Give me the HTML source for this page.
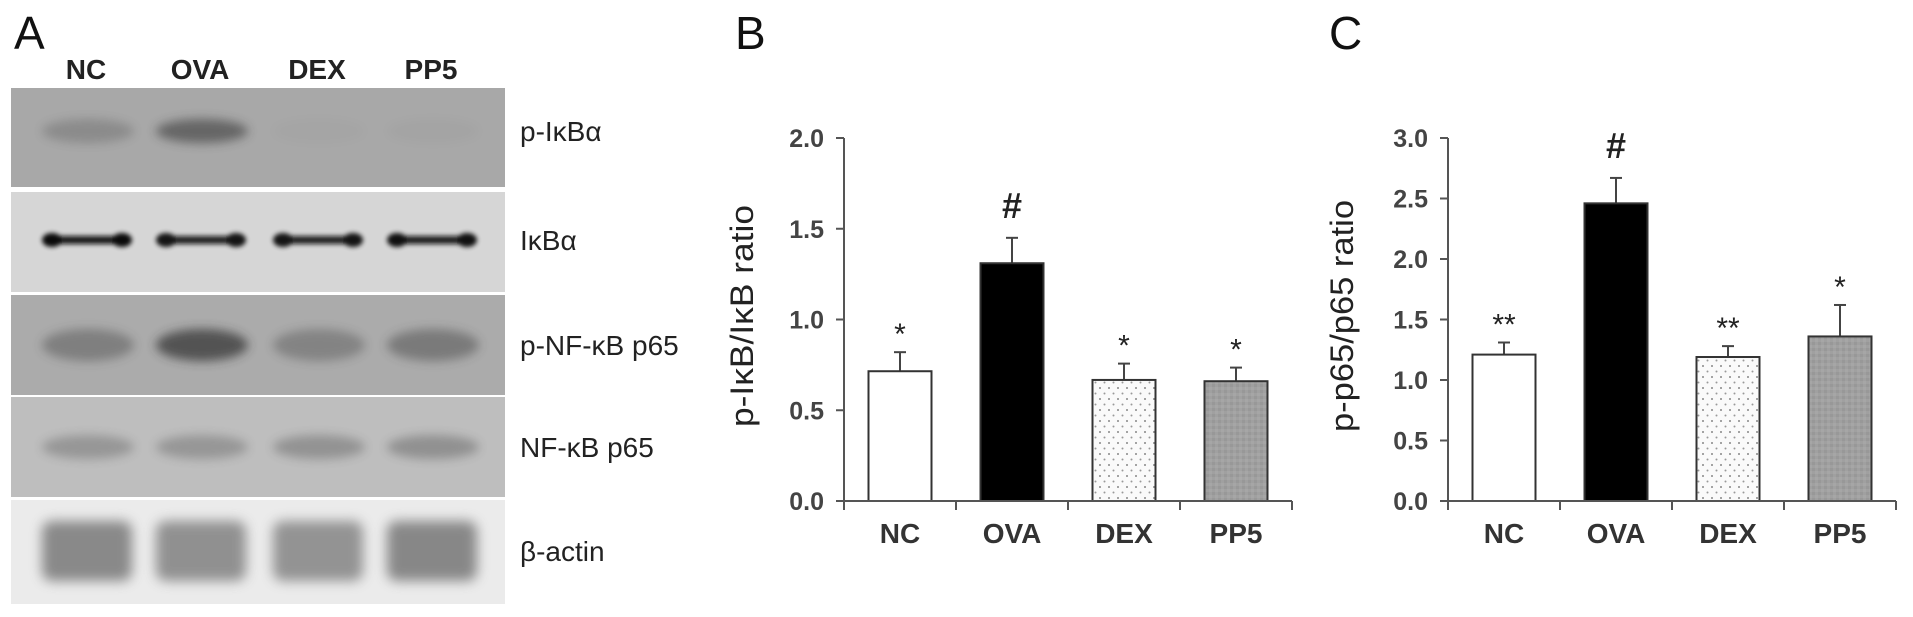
<!DOCTYPE html>
<html><head><meta charset="utf-8"><style>
html,body{margin:0;padding:0;background:#fff;}
svg{display:block;font-family:"Liberation Sans",Arial,sans-serif;}
</style></head><body>
<svg id="fig" width="1913" height="617" viewBox="0 0 1913 617">
<defs>
<filter id="blur4" x="-30%" y="-100%" width="160%" height="300%"><feGaussianBlur stdDeviation="5"/></filter>
<filter id="blur2" x="-30%" y="-100%" width="160%" height="300%"><feGaussianBlur stdDeviation="2.5"/></filter>
<filter id="blur8" x="-30%" y="-60%" width="160%" height="220%"><feGaussianBlur stdDeviation="6"/></filter>
<pattern id="dots" width="9" height="11" patternUnits="userSpaceOnUse"><rect width="9" height="11" fill="#fafafa"/><circle cx="2" cy="3" r="1" fill="#888"/><circle cx="6.5" cy="8.5" r="1" fill="#999"/></pattern>
<pattern id="gray" width="6" height="6" patternUnits="userSpaceOnUse"><rect width="6" height="6" fill="#a0a0a0"/><rect width="3" height="3" fill="#989898"/><rect x="3" y="3" width="3" height="3" fill="#a6a6a6"/></pattern>
</defs>
<g>
<text x="14" y="49" font-size="46" fill="#111">A</text>
<g id="blot"></g>
</g>
<g id="panelB">
<text x="735" y="49" font-size="46" fill="#111">B</text>
</g>
<g id="panelC">
<text x="1329" y="49" font-size="46" fill="#111">C</text>
</g>
</svg>
<script>
const NS='http://www.w3.org/2000/svg';
const categories=['NC','OVA','DEX','PP5'];
const bValues=[0.715,1.31,0.667,0.66];
const bErrors=[0.105,0.14,0.09,0.075];
const bMarks=['*','#','*','*'];
const bTicks=['0.0','0.5','1.0','1.5','2.0'];
const cValues=[1.21,2.46,1.19,1.36];
const cErrors=[0.10,0.21,0.09,0.26];
const cMarks=['**','#','**','*'];
const cTicks=['0.0','0.5','1.0','1.5','2.0','2.5','3.0'];
const blotLabels=['p-IκBα','IκBα','p-NF-κB p65','NF-κB p65','β-actin'];
const bandIntensity=[[0.3,0.7,0.03,0.04],[0.95,0.9,0.9,0.92],[0.45,0.9,0.4,0.5],[0.35,0.35,0.38,0.4],[0.65,0.6,0.58,0.66]];

function el(tag,attrs,parent,txt){const e=document.createElementNS(NS,tag);for(const k in attrs)e.setAttribute(k,attrs[k]);if(txt!==undefined)e.textContent=txt;parent.appendChild(e);return e;}

const blot=document.getElementById('blot');
const strips=[[88,187,'#a8a8a8'],[192,292,'#d6d6d6'],[295,395,'#ababab'],[397,497,'#bebebe'],[500,604,'#ebebeb']];
const laneX=[86,200,317,431];
categories.forEach((c,i)=>{
  const t=el('text',{x:laneX[i],y:79,'font-size':28,'font-weight':'bold','text-anchor':'middle',fill:'#222'},blot,c);
  
  
});
strips.forEach((s,si)=>{
  const g=el('g',{},blot);
  
  
  el('rect',{x:11,y:s[0],width:494,height:s[1]-s[0],fill:s[2]},g);
  const cy=si===0?131:si===1?240:si===2?345:si===3?447:551;
  laneX.forEach((x,li)=>{
    const a=bandIntensity[si][li];
    let b;
    if(si===4){
      b=el('rect',{x:x-44,y:cy-30,width:90,height:60,rx:10,fill:'#555',opacity:a,filter:'url(#blur8)'},g);
    } else if(si===1){
      b=el('g',{filter:'url(#blur2)',opacity:a},g);
      el('rect',{x:x-40,y:cy-4,width:82,height:8,fill:'#111'},b);
      el('ellipse',{cx:x-34,cy:cy,rx:10,ry:7,fill:'#000'},b);
      el('ellipse',{cx:x+36,cy:cy,rx:10,ry:7,fill:'#000'},b);
    } else {
      const h=si===2?16:12;
      b=el('ellipse',{cx:x+2,cy:cy,rx:46,ry:h,fill:'#333',opacity:a*0.8,filter:'url(#blur4)'},g);
    }
    
    
  });
  const lt=el('text',{x:520,y:cy+10,'font-size':28,fill:'#222'},blot,blotLabels[si]);
  
  
});

function chart(gid,x0,maxV,ticks,values,errors,marks,ylabel){
  const g=document.getElementById(gid);
  const W=448,y0=501,y1=138;
  const ys=v=>y0-(v/maxV)*(y0-y1);
  const band=W/categories.length;
  const xs=i=>x0+band*i+band/2;
  const fills=['#fff','#000','url(#dots)','url(#gray)'];
  ticks.forEach(t=>{
    const v=parseFloat(t);
    const tk=el('line',{x1:x0-8,x2:x0,y1:ys(v),y2:ys(v),stroke:'#555','stroke-width':2},g);
    
    
    const tl=el('text',{x:x0-20,y:ys(v)+9,'font-size':25,'font-weight':'bold','text-anchor':'end',fill:'#444'},g,t);
    
    
  });
  values.forEach((v,i)=>{
    const cx=xs(i);
    const top=ys(v+errors[i]);
    const e=el('line',{x1:cx,x2:cx,y1:ys(v),y2:top,stroke:'#444','stroke-width':2},g);
    
    
    const cap=el('line',{x1:cx-6,x2:cx+6,y1:top,y2:top,stroke:'#444','stroke-width':2},g);
    
    
    const r=el('rect',{x:cx-31.5,y:ys(v),width:63,height:y0-ys(v),fill:fills[i],stroke:'#333','stroke-width':2},g);
    
    
    const m=marks[i];
    const mt=el('text',{x:cx,y:m==='#'?top-20:top-8,'font-size':m==='#'?36:30,'font-weight':m==='#'?'bold':'normal','text-anchor':'middle',fill:'#222'},g,m);
    
    
    const xl=el('text',{x:cx,y:543,'font-size':28,'font-weight':'bold','text-anchor':'middle',fill:'#333'},g,categories[i]);
    
    
  });
  for(let i=1;i<=categories.length;i++){
    const t=el('line',{x1:x0+band*i,x2:x0+band*i,y1:y0,y2:y0+9,stroke:'#555','stroke-width':2},g);
    
    
  }
  const ya=el('line',{x1:x0,x2:x0,y1:y1,y2:y0+9,stroke:'#555','stroke-width':2},g);
  
  
  const xa=el('line',{x1:x0,x2:x0+W,y1:y0,y2:y0,stroke:'#555','stroke-width':2},g);
  
  
  const lx=x0-(gid==='panelB'?91:95), ly=316;
  const yl=el('text',{x:lx,y:ly,'font-size':32,'text-anchor':'middle',fill:'#222',transform:'rotate(-90 '+lx+' '+ly+')',textLength:gid==='panelB'?222:232,lengthAdjust:'spacingAndGlyphs'},g,ylabel);
  
  
}
chart('panelB',844,2.0,bTicks,bValues,bErrors,bMarks,'p-IκB/IκB ratio');
chart('panelC',1448,3.0,cTicks,cValues,cErrors,cMarks,'p-p65/p65 ratio');
</script>
</body></html>
